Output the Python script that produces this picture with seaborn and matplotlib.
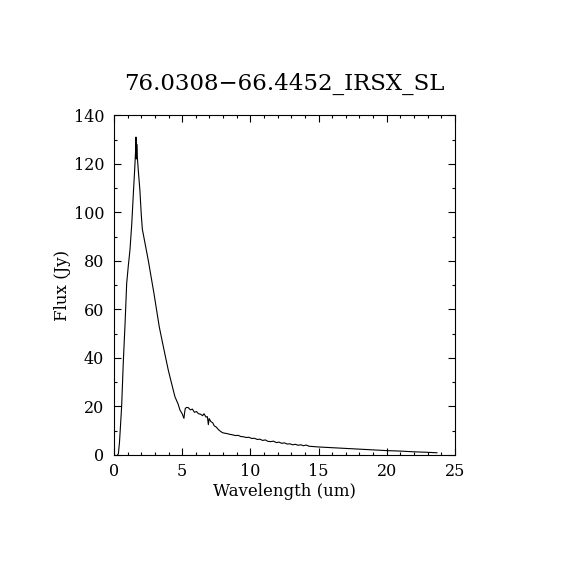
import numpy as np
import pandas as pd
import matplotlib
matplotlib.use("Agg")
import matplotlib.pyplot as plt
import seaborn as sns
from matplotlib.ticker import MultipleLocator

# spectrum
wavelength = [0.25, 0.32, 0.40, 0.45, 0.56, 0.68, 0.81, 0.93, 1.05, 1.17, 1.30,
              1.42, 1.52, 1.58, 1.61, 1.64, 1.67, 1.72, 1.80, 1.90, 2.00, 2.08,
              2.25, 2.52, 2.93, 3.32, 3.62, 3.98, 4.20, 4.47, 4.70, 4.84, 5.00,
              5.13, 5.18, 5.23, 5.33, 5.45, 5.60, 5.75, 5.90, 6.05, 6.20, 6.35,
              6.50, 6.60, 6.75, 6.85, 6.92, 6.98, 7.10, 7.25, 7.35, 7.50, 7.65,
              7.80, 7.95, 8.10, 8.30, 8.50, 8.70, 8.90, 9.10, 9.30, 9.50, 9.70,
              9.90, 10.1, 10.3, 10.5, 10.7, 10.9, 11.1, 11.3, 11.5, 11.7, 11.9,
              12.1, 12.3, 12.5, 12.7, 12.9, 13.1, 13.3, 13.5, 13.7, 13.9, 14.1,
              14.3, 15.0, 16.0, 17.0, 18.0, 19.0, 20.0, 21.0, 22.0, 23.0, 23.7]
flux = [0.0, 0.5, 5.0, 9.6, 20.0, 38.0, 54.0, 70.7, 78.0, 84.4, 95.0,
        107.8, 118.0, 125.0, 131.0, 122.0, 128.0, 122.0, 116.0, 109.0, 99.0, 93.0,
        88.0, 80.0, 66.6, 52.8, 44.6, 35.0, 30.0, 24.0, 21.0, 18.5, 17.0,
        15.1, 17.5, 19.2, 19.6, 19.5, 18.6, 18.9, 17.6, 17.9, 17.0, 16.8,
        16.2, 17.0, 15.6, 15.8, 12.5, 15.0, 13.8, 13.2, 12.0, 11.5, 10.5,
        9.8, 9.2, 9.0, 8.8, 8.5, 8.3, 8.0, 8.1, 7.6, 7.5, 7.2,
        7.3, 6.8, 6.9, 6.4, 6.5, 6.0, 6.2, 5.6, 5.5, 5.7, 5.1,
        5.3, 4.8, 5.0, 4.5, 4.6, 4.2, 4.4, 4.0, 4.2, 3.8, 4.1,
        3.6, 3.3, 3.0, 2.7, 2.4, 2.1, 1.8, 1.6, 1.3, 1.1, 0.9]

df = pd.DataFrame({"wave": wavelength, "flux": flux})

sns.set_style("ticks")
plt.rcParams["font.family"] = ["DejaVu Serif"]
plt.rcParams["text.color"] = "black"
plt.rcParams["axes.labelcolor"] = "black"

fig = plt.figure(figsize=(5.7, 5.7), dpi=100)
ax = fig.add_axes([0.2, 0.2018, 0.598, 0.596])

sns.lineplot(data=df, x="wave", y="flux", sort=False, estimator=None,
             color="black", linewidth=0.8, ax=ax)

ax.set_xlim(0, 25)
ax.set_ylim(0, 140)
ax.xaxis.set_major_locator(MultipleLocator(5))
ax.xaxis.set_minor_locator(MultipleLocator(1))
ax.yaxis.set_major_locator(MultipleLocator(20))
ax.yaxis.set_minor_locator(MultipleLocator(10))
ax.tick_params(which="both", direction="in", top=True, right=True,
               colors="black", labelsize=11.5, width=0.8)
ax.tick_params(which="major", length=5)
ax.tick_params(which="minor", length=2.5)
ax.tick_params(axis="x", which="major", pad=6)
ax.tick_params(axis="y", which="major", pad=7)
for s in ax.spines.values():
    s.set_linewidth(0.8)
    s.set_color("black")

ax.set_xlabel("Wavelength (um)", fontsize=12, labelpad=2)
ax.set_ylabel("Flux (Jy)", fontsize=12, labelpad=2)
ax.set_title("76.0308\u221266.4452_IRSX_SL", fontsize=16.5, pad=18)

fig.savefig("out.png", dpi=100, facecolor="white")
